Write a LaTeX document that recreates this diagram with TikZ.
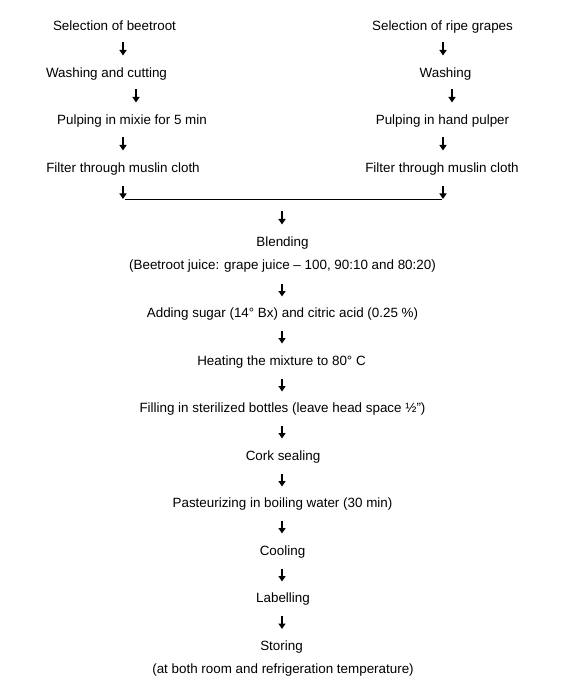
\documentclass[tikz,border=0pt]{standalone}
\usepackage{fontspec}
\setmainfont{Liberation Sans}
\usetikzlibrary{arrows.meta}
\begin{document}
\begin{tikzpicture}[x=1pt,y=-1pt,
  lbl/.style={font=\fontsize{13.4}{16}\selectfont, inner sep=0pt, anchor=center, text height=9.6pt, text depth=0pt},
  arr/.style={-{Triangle[length=5.5pt,width=7pt]}, line width=1.3pt},
  joinline/.style={line width=1pt}]
\useasboundingbox[fill=white] (0,0) rectangle (568,692);
% left column
\node[lbl] (l1) at (114.5,25.5) {Selection of beetroot};
\node[lbl] (l2) at (106.5,73) {Washing and cutting};
\node[lbl] (l3) at (132,120) {Pulping in mixie for 5 min};
\node[lbl] (l4) at (123,168) {Filter through muslin cloth};
% right column
\node[lbl] (r1) at (442.5,25.5) {Selection of ripe grapes};
\node[lbl] (r2) at (445.5,73) {Washing};
\node[lbl] (r3) at (442.5,120) {Pulping in hand pulper};
\node[lbl] (r4) at (442,168) {Filter through muslin cloth};
% centre column
\node[lbl] (c1) at (282.5,242) {Blending};
\node[lbl] (c1b) at (282.5,265) {(Beetroot juice: grape juice – 100, 90:10 and 80:20)};
\node[lbl] (c2) at (282.5,313) {Adding sugar (14° Bx) and citric acid (0.25 \%)};
\node[lbl] (c3) at (281.5,361) {Heating the mixture to 80° C};
\node[lbl] (c4) at (282.5,408) {Filling in sterilized bottles (leave head space ½”)};
\node[lbl] (c5) at (283,456) {Cork sealing};
\node[lbl] (c6) at (282.5,503) {Pasteurizing in boiling water (30 min)};
\node[lbl] (c7) at (282.5,551) {Cooling};
\node[lbl] (c8) at (283,598) {Labelling};
\node[lbl] (c9) at (281.5,646) {Storing};
\node[lbl] (c9b) at (283,669) {(at both room and refrigeration temperature)};
% joining line
\coordinate (ja) at (125,200);
\coordinate (jb) at (442,200);
\draw[joinline] (ja) -- (jb);
% arrows
\foreach \x/\y [count=\i] in {123/49, 136/96, 123/144, 123/192.5,
    443/49, 452/96, 443/144, 443/192.5,
    282/218, 282/290, 282/337, 282/385, 282/432, 282/480, 282/527, 282/575, 282/622.5} {
  \coordinate (au\i) at (\x,\y-6.5);
  \coordinate (ad\i) at (\x,\y+6.5);
  \draw[arr] (au\i) -- (ad\i);
}
\end{tikzpicture}
\end{document}
